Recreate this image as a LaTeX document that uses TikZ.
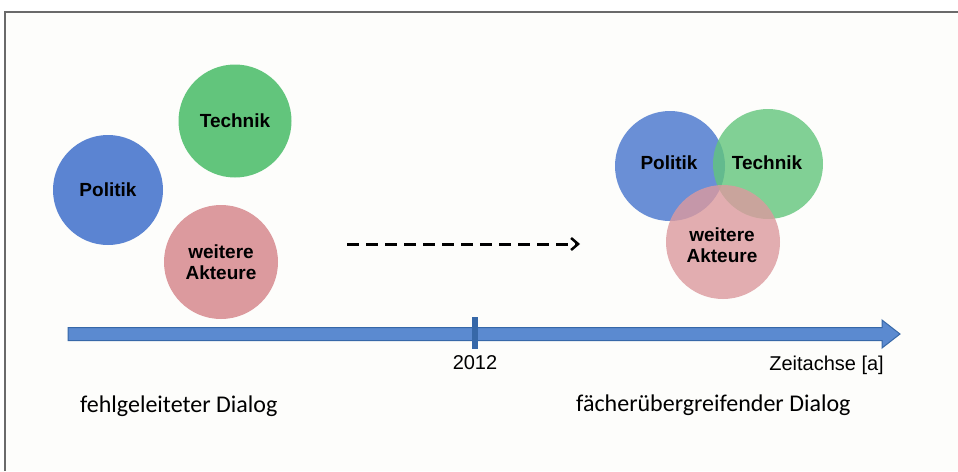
\documentclass[tikz,border=0pt]{standalone}
\usepackage{fontspec}
\setmainfont{Liberation Sans}
\newfontfamily\calfont{Carlito}
\usetikzlibrary{arrows.meta}
\definecolor{cblue}{HTML}{5B84D2}
\definecolor{cgreen}{HTML}{62C57C}
\definecolor{cpink}{HTML}{DC9A9E}
\definecolor{axfill}{HTML}{5B8AD0}
\definecolor{axline}{HTML}{3768A8}
\definecolor{framec}{HTML}{6A6A6A}
\definecolor{bgc}{HTML}{FDFDFB}
\tikzset{
  actor/.style={circle, inner sep=0pt, text=black, font=\bfseries\fontsize{19}{21}\selectfont, align=center},
  capt/.style={font=\calfont\fontsize{24}{26}\selectfont, anchor=base west, inner sep=0pt},
  axlabel/.style={font=\fontsize{20}{22}\selectfont, inner sep=0pt, anchor=base}
}
\begin{document}
\begin{tikzpicture}[x=1pt,y=-1pt]
\useasboundingbox (0,0) rectangle (958,471);
\fill[white] (0,0) rectangle (958,471);
\fill[bgc] (4.5,11.5) rectangle (958,471);
\draw[framec, line width=2pt] (4.5,471) -- (4.5,11.5) -- (958,11.5);
% left group
\node[actor, fill=cblue, minimum size=110pt] (pl) at (108,190) {Politik};
\node[actor, fill=cgreen, minimum size=113pt] (tl) at (235,121) {Technik};
\node[actor, fill=cpink, minimum size=114pt] (al) at (221,262) {weitere\\Akteure};
% right group
\node[actor, fill=cblue, fill opacity=0.9, minimum size=110pt] (pr) at (670,166) {};
\node[actor, fill=cgreen, fill opacity=0.8, minimum size=110pt] (tr) at (768,164) {};
\node[actor, fill=cpink, fill opacity=0.8, minimum size=114pt] (ar) at (723,242) {};
\node[actor] (prt) at (669,163) {Politik};
\node[actor] (trt) at (767,163) {Technik};
\node[actor] (art) at (722,245) {weitere\\Akteure};
% dashed arrow
\coordinate (ds) at (347,244);
\coordinate (de) at (580,244);
\draw[line width=3pt, dash pattern=on 12pt off 7pt, -{Straight Barb[length=7pt,width=12pt,line width=2.5pt]}] (ds) -- (de);
% axis
\filldraw[fill=axfill, draw=axline, line width=1pt] (68,327.5) -- (882,327.5) -- (882,320) -- (900,334) -- (882,348) -- (882,340.5) -- (68,340.5) -- cycle;
\node[fill=axline, draw=axline, minimum width=5pt, minimum height=31pt, inner sep=0pt] (tick) at (475,333) {};
\node[axlabel] (y2012) at (475,369) {2012};
\node[axlabel, anchor=base east] (zeit) at (884,370) {Zeitachse [a]};
\node[capt] (c1) at (80,412) {fehlgeleiteter Dialog};
\node[capt] (c2) at (576,411) {fächerübergreifender Dialog};
\end{tikzpicture}
\end{document}
